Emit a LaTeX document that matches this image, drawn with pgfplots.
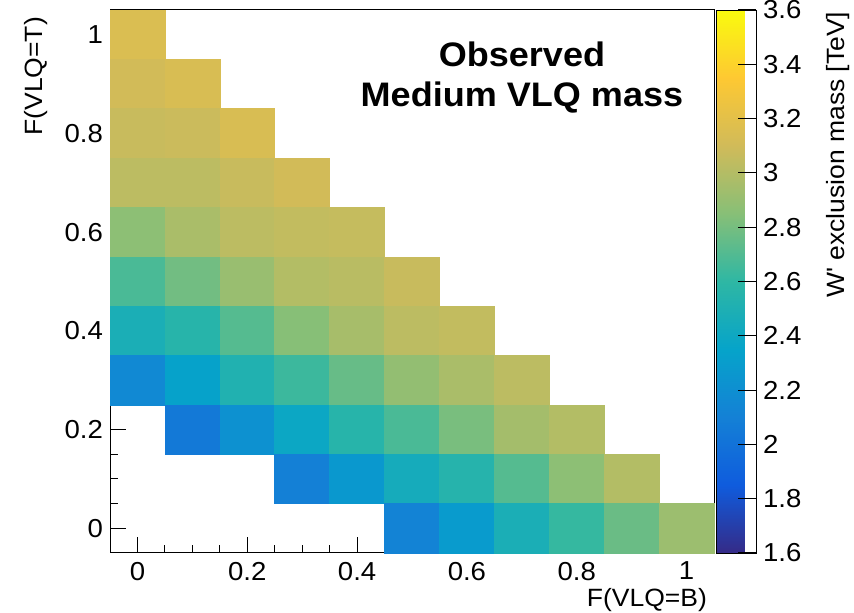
\documentclass[border=0pt]{standalone}
\usepackage{pgfplots}
\pgfplotsset{compat=1.18}
\usepackage{pgfplotstable}
\usepackage{fontspec}
\setmainfont{Liberation Sans}[FakeStretch=1.06]
\pgfplotsset{colormap={bird}{
rgb=(0.2082,0.1664,0.5293)
rgb=(0.0592,0.3599,0.8684)
rgb=(0.0780,0.5041,0.8385)
rgb=(0.0232,0.6419,0.7914)
rgb=(0.1802,0.7178,0.6425)
rgb=(0.5301,0.7492,0.4662)
rgb=(0.8186,0.7328,0.3499)
rgb=(0.9956,0.7862,0.1968)
rgb=(0.9764,0.9832,0.0539)
}}
\pgfplotstableread{
x y c
0.0 1.0 3.15
0.0 0.9 3.11
0.1 0.9 3.14
0.0 0.8 3.07
0.1 0.8 3.08
0.2 0.8 3.14
0.0 0.7 3.03
0.1 0.7 3.03
0.2 0.7 3.07
0.3 0.7 3.11
0.0 0.6 2.87
0.1 0.6 2.97
0.2 0.6 3.03
0.3 0.6 3.05
0.4 0.6 3.06
0.0 0.5 2.68
0.1 0.5 2.79
0.2 0.5 2.91
0.3 0.5 3.00
0.4 0.5 3.02
0.5 0.5 3.07
0.0 0.4 2.48
0.1 0.4 2.56
0.2 0.4 2.71
0.3 0.4 2.85
0.4 0.4 2.96
0.5 0.4 3.03
0.6 0.4 3.05
0.0 0.3 2.16
0.1 0.3 2.34
0.2 0.3 2.52
0.3 0.3 2.64
0.4 0.3 2.76
0.5 0.3 2.89
0.6 0.3 2.97
0.7 0.3 3.03
0.1 0.2 2.05
0.2 0.2 2.22
0.3 0.2 2.39
0.4 0.2 2.56
0.5 0.2 2.68
0.6 0.2 2.81
0.7 0.2 2.95
0.8 0.2 3.00
0.3 0.1 2.10
0.4 0.1 2.27
0.5 0.1 2.45
0.6 0.1 2.55
0.7 0.1 2.71
0.8 0.1 2.87
0.9 0.1 3.00
0.5 0.0 2.12
0.6 0.0 2.29
0.7 0.0 2.48
0.8 0.0 2.62
0.9 0.0 2.77
1.0 0.0 2.92
}\cells
\begin{document}
\begin{tikzpicture}
\begin{axis}[
  scale only axis, width=302pt, height=271.5pt,
  xmin=-0.05, xmax=1.05, ymin=-0.05, ymax=1.05,
  xtick={0,0.2,0.4,0.6,0.8,1}, ytick={0,0.2,0.4,0.6,0.8,1},
  minor x tick num=3, minor y tick num=3,
  xtick pos=bottom, ytick pos=left,
  tick align=inside, major tick length=8pt, minor tick length=4pt,
  tick style={black, line width=0.5pt},
  axis line style={line width=0.5pt},
  axis on top,
  tick label style={font=\fontsize{13}{15}\selectfont},
  xticklabel style={yshift=-1pt},
  /pgf/number format/assume math mode=true,
  colormap name=bird,
  point meta min=1.6, point meta max=3.6,
  colorbar,
  colorbar style={
    at={(parent axis.north east)}, anchor=north west, xshift=-7.5pt,
    scale only axis, width=20pt, height=271.5pt,
    ytick={1.6,1.8,2,2.2,2.4,2.6,2.8,3,3.2,3.4,3.6},
    ytick pos=right, yticklabel pos=right,
    tick align=inside, major tick length=9pt,
    tick style={black, line width=0.5pt},
    axis on top,
    yticklabel style={font=\fontsize{13}{15}\selectfont},
    /pgf/number format/assume math mode=true,
    every axis y label/.style={at={(axis description cs:3.05,1.01)}, anchor=east, rotate=90, font=\fontsize{12.5}{14}\selectfont},
    ylabel={W\textquotesingle{} exclusion mass [TeV]},
  },
  every axis x label/.style={at={(axis description cs:1,0)}, anchor=east, yshift=-23.5pt, font=\fontsize{12.5}{14}\selectfont},
  every axis y label/.style={at={(axis description cs:-0.122,1)}, anchor=east, rotate=90, font=\fontsize{12.5}{14}\selectfont},
  xlabel={F(VLQ=B)}, ylabel={F(VLQ=T)},
  clip=false,
]
\addplot[scatter, only marks, mark=square*, mark size=12.34pt,
  point meta=explicit,
  scatter/use mapped color={draw=mapped color, fill=mapped color},
  mark options={xscale=1.1124, line width=0.3pt}]
  table[x=x, y=y, meta=c] {\cells};
\node[font=\bfseries\fontsize{17}{20}\selectfont, align=center] at (rel axis cs:0.682,0.875) {Observed\\Medium VLQ mass};
\coordinate (bl) at (rel axis cs:0,0);
\end{axis}
\pgfresetboundingbox
\path (bl) ++(-55pt,-30pt) rectangle ++(427pt,306.5pt);
\end{tikzpicture}
\end{document}
